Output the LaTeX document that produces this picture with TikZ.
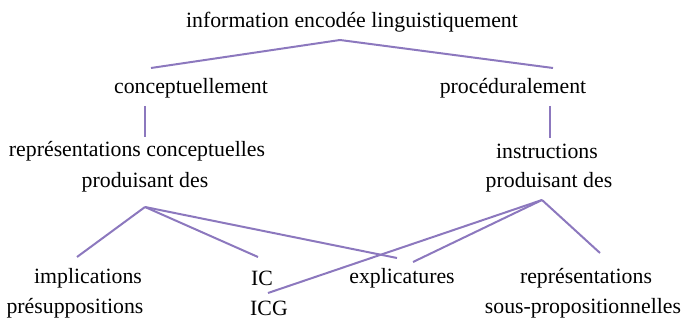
\documentclass[tikz,border=0pt]{standalone}
\usepackage{fontspec}
\setmainfont{Liberation Serif}
\usepackage{tikz}
\usetikzlibrary{positioning}

\definecolor{lien}{RGB}{140,120,190}

\begin{document}
\begin{tikzpicture}[
    x=0.5pt, y=-0.5pt,
    txt/.style={inner sep=0pt, font=\fontsize{10.9}{13}\selectfont},
    lien/.style={draw=lien, line width=1pt}
]
    \useasboundingbox (0,0) rectangle (681,320);

    \node[txt] (info) at (352,22) {information encodée linguistiquement};
    \node[txt] (concept) at (191,88) {conceptuellement};
    \node[txt] (proced) at (513,88) {procéduralement};

    \node[txt] (reprc) at (137,151) {représentations conceptuelles};
    \node[txt] (prodg) at (145,182) {produisant des};
    \node[txt] (instr) at (547,151) {instructions};
    \node[txt] (prodd) at (549,182) {produisant des};

    \node[txt] (impl) at (88,278) {implications};
    \node[txt] (presup) at (75,308) {présuppositions};
    \node[txt] (ic) at (262,278) {IC};
    \node[txt] (icg) at (269,308) {ICG};
    \node[txt] (expl) at (402,278) {explicatures};
    \node[txt] (reprs) at (586,278) {représentations};
    \node[txt] (souspr) at (583,308) {sous-propositionnelles};

    % points d'attache des traits
    \coordinate (s0) at (340,40);
    \coordinate (e-concept) at (151,68);
    \coordinate (e-proced) at (553,68);
    \coordinate (v-concept) at (145,106);
    \coordinate (v-reprc) at (145,137);
    \coordinate (v-proced) at (550,106);
    \coordinate (v-instr) at (550,138);
    \coordinate (sg) at (145,207);
    \coordinate (sd) at (542,200);
    \coordinate (e-impl) at (77,257);
    \coordinate (e-ic) at (258,257);
    \coordinate (e-explg) at (397,258);
    \coordinate (e-icg) at (268,293);
    \coordinate (e-expld) at (413,262);
    \coordinate (e-reprs) at (600,253);

    \draw[lien] (s0) -- (e-concept);
    \draw[lien] (s0) -- (e-proced);
    \draw[lien] (v-concept) -- (v-reprc);
    \draw[lien] (v-proced) -- (v-instr);

    \draw[lien] (sg) -- (e-impl);
    \draw[lien] (sg) -- (e-ic);
    \draw[lien] (sg) -- (e-explg);

    \draw[lien] (sd) -- (e-icg);
    \draw[lien] (sd) -- (e-expld);
    \draw[lien] (sd) -- (e-reprs);
\end{tikzpicture}
\end{document}
